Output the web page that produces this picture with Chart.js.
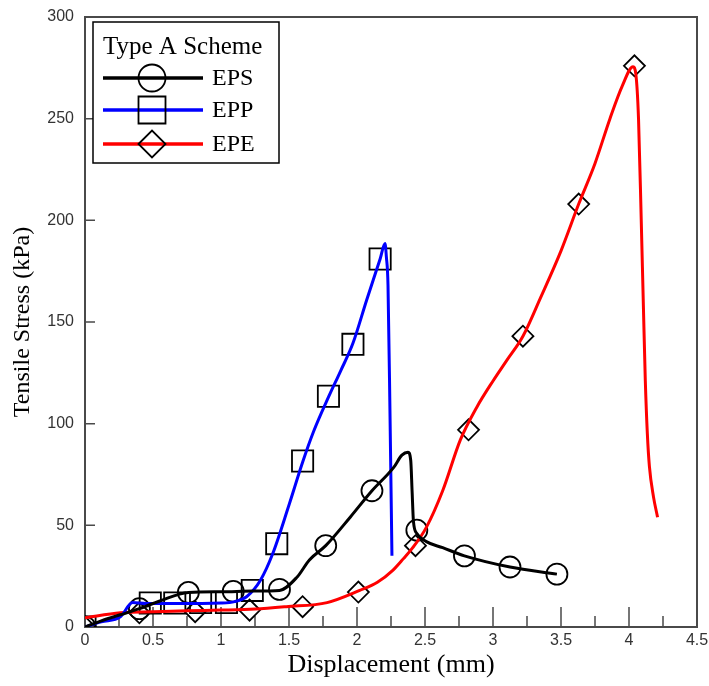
<!DOCTYPE html>
<html>
<head>
<meta charset="utf-8">
<script src="https://cdn.jsdelivr.net/npm/chart.js@4/dist/chart.umd.min.js"></script>
<style>
  html, body { margin: 0; padding: 0; background: #fff; }
</style>
</head>
<body>
<canvas id="c" width="709" height="686"></canvas>
<script>
// Series names, colours and marker shapes
const legendTitle = 'Type A Scheme';
const seriesNames = ['EPS', 'EPP', 'EPE'];
const seriesColors = ['#000000', '#0000ff', '#ff0000'];
const markerStyles = ['circle', 'rect', 'rectRot'];

// EPS: displacement (mm) / tensile stress (kPa)
const epsX = [0, 0.12, 0.26, 0.40, 0.55, 0.76, 1.00, 1.24, 1.43, 1.56, 1.65, 1.77, 1.95, 2.11, 2.27, 2.33, 2.375, 2.395, 2.405, 2.415, 2.44, 2.51, 2.63, 2.79, 3.125, 3.47];
const epsY = [0, 3, 6, 9, 12.8, 17, 17.3, 17.7, 18, 24.6, 33, 40, 54, 67, 78.5, 84.5, 86, 82, 67, 52, 46, 42, 39, 35, 29.5, 26];
const epsMarkX = [0, 0.40, 0.76, 1.09, 1.43, 1.77, 2.11, 2.44, 2.79, 3.125, 3.47];
const epsMarkY = [0, 9, 17, 17.5, 18.5, 40, 67, 47.6, 35, 29.5, 26];

// EPP
const eppX = [0, 0.12, 0.26, 0.35, 0.45, 0.66, 1.00, 1.10, 1.19, 1.29, 1.38, 1.50, 1.60, 1.68, 1.79, 1.88, 1.97, 2.07, 2.17, 2.206, 2.216, 2.228, 2.243, 2.257];
const eppY = [0, 2.5, 5, 12, 11.5, 11.5, 11.8, 12.5, 15, 23, 36, 60, 81, 96, 113, 126, 139.5, 160.6, 181, 188.6, 182, 168, 103, 35];
const eppMarkX = [0, 0.48, 0.66, 0.85, 1.04, 1.23, 1.41, 1.60, 1.79, 1.97, 2.17];
const eppMarkY = [0, 11.8, 11.8, 12, 12, 18, 41, 81.6, 113.5, 139, 181];

// EPE
const epeX = [0, 0.26, 0.50, 0.75, 1.00, 1.25, 1.48, 1.78, 2.02, 2.15, 2.265, 2.34, 2.41, 2.51, 2.63, 2.76, 2.88, 3.00, 3.10, 3.22, 3.35, 3.50, 3.63, 3.75, 3.86, 3.95, 4.03, 4.05, 4.07, 4.09, 4.105, 4.12, 4.135, 4.15, 4.18, 4.21];
const epeY = [4.5, 7, 7.5, 8, 8.3, 8.8, 10, 12, 18, 22, 28, 33.5, 39, 49, 67, 92, 108, 121, 131, 143, 162, 185, 208, 228, 250, 266, 275.5, 272, 250, 200, 160, 121, 95, 79, 64, 54];
const epeMarkX = [0, 0.40, 0.81, 1.21, 1.60, 2.01, 2.43, 2.82, 3.22, 3.63, 4.04];
const epeMarkY = [0, 7, 7.5, 8.3, 10, 17.2, 40, 97, 143, 208, 276];

// Axis ticks
const xTickValues = [0, 0.5, 1, 1.5, 2, 2.5, 3, 3.5, 4, 4.5];
const xMinorValues = [0.25, 0.75, 1.25, 1.75, 2.25, 2.75, 3.25, 3.75, 4.25];
const yTickValues = [0, 50, 100, 150, 200, 250, 300];

const pts = (xs, ys) => xs.map((x, i) => ({ x, y: ys[i] }));

const curves = [pts(epsX, epsY), pts(eppX, eppY), pts(epeX, epeY)];
const marks = [pts(epsMarkX, epsMarkY), pts(eppMarkX, eppMarkY), pts(epeMarkX, epeMarkY)];
const markRadius = [10.5, 15, 10.5];

const datasets = [];
curves.forEach((data, i) => {
  datasets.push({
    label: seriesNames[i],
    data,
    showLine: true,
    borderColor: seriesColors[i],
    borderWidth: 3,
    pointRadius: 0,
    cubicInterpolationMode: 'monotone',
    fill: false
  });
});
marks.forEach((data, i) => {
  datasets.push({
    label: seriesNames[i] + ' markers',
    data,
    showLine: false,
    pointStyle: markerStyles[i],
    pointRadius: markRadius[i],
    pointBorderColor: '#000',
    pointBackgroundColor: 'rgba(0,0,0,0)',
    pointBorderWidth: 1.8
  });
});

const serif = "'Liberation Serif', 'Times New Roman', serif";
const sans = "'Liberation Sans', Arial, sans-serif";

// Frame box and inward tick marks
const framePlugin = {
  id: 'frame',
  beforeDatasetsDraw(chart) {
    const { ctx, chartArea: a, scales: { x, y } } = chart;
    ctx.save();
    ctx.strokeStyle = '#4a4a4a';
    ctx.lineWidth = 1.5;
    ctx.beginPath();
    xTickValues.forEach(v => {
      const px = x.getPixelForValue(v);
      ctx.moveTo(px, a.bottom); ctx.lineTo(px, a.bottom - 20);
    });
    xMinorValues.forEach(v => {
      const px = x.getPixelForValue(v);
      ctx.moveTo(px, a.bottom); ctx.lineTo(px, a.bottom - 11);
    });
    yTickValues.forEach(v => {
      const py = y.getPixelForValue(v);
      ctx.moveTo(a.left, py); ctx.lineTo(a.left + 10, py);
    });
    ctx.stroke();
    ctx.lineWidth = 2;
    ctx.strokeRect(a.left, a.top, a.right - a.left, a.bottom - a.top);
    ctx.restore();
  }
};

// Legend box with line + marker samples
const legendPlugin = {
  id: 'schemeLegend',
  afterDatasetsDraw(chart) {
    const { ctx, chartArea: a } = chart;
    const bx = a.left + 8, by = a.top + 5, bw = 186, bh = 141;
    ctx.save();
    ctx.fillStyle = '#fff';
    ctx.fillRect(bx, by, bw, bh);
    ctx.strokeStyle = '#000';
    ctx.lineWidth = 1.5;
    ctx.strokeRect(bx, by, bw, bh);
    ctx.fillStyle = '#000';
    ctx.font = '25px ' + serif;
    ctx.textBaseline = 'alphabetic';
    ctx.textAlign = 'left';
    ctx.fillText(legendTitle, bx + 10, by + 32);
    const rows = [by + 56, by + 88, by + 122];
    seriesNames.forEach((name, i) => {
      const ry = rows[i];
      ctx.strokeStyle = seriesColors[i];
      ctx.lineWidth = 3.5;
      ctx.beginPath();
      ctx.moveTo(bx + 10, ry); ctx.lineTo(bx + 110, ry);
      ctx.stroke();
      const cx = bx + 59;
      ctx.strokeStyle = '#000';
      ctx.lineWidth = 1.8;
      ctx.beginPath();
      if (markerStyles[i] === 'circle') {
        ctx.arc(cx, ry, 13.5, 0, Math.PI * 2);
      } else if (markerStyles[i] === 'rect') {
        ctx.rect(cx - 13.5, ry - 13.5, 27, 27);
      } else {
        ctx.moveTo(cx - 13.5, ry); ctx.lineTo(cx, ry - 13.5);
        ctx.lineTo(cx + 13.5, ry); ctx.lineTo(cx, ry + 13.5); ctx.closePath();
      }
      ctx.stroke();
      ctx.fillStyle = '#000';
      ctx.font = '24px ' + serif;
      ctx.textBaseline = 'middle';
      ctx.fillText(name, bx + 119, ry + 1);
    });
    ctx.restore();
  }
};

const zeroPad = s => { s.paddingLeft = 0; s.paddingRight = 0; s.paddingTop = 0; s.paddingBottom = 0; };

new Chart(document.getElementById('c'), {
  type: 'scatter',
  data: { datasets },
  options: {
    responsive: false,
    animation: false,
    devicePixelRatio: 1,
    layout: { autoPadding: false, padding: { top: 17, right: 12, left: 0, bottom: 0 } },
    plugins: { legend: { display: false }, tooltip: { enabled: false } },
    scales: {
      x: {
        type: 'linear',
        min: 0, max: 4.5,
        afterBuildTicks: s => { s.ticks = xTickValues.map(v => ({ value: v })); },
        afterFit: s => { s.height = 59; zeroPad(s); },
        grid: { display: false, drawTicks: false },
        border: { display: false },
        ticks: { color: '#333', font: { family: sans, size: 16 }, padding: 4, maxRotation: 0, autoSkip: false, callback: v => String(v) },
        title: { display: true, text: 'Displacement (mm)', color: '#000', font: { family: serif, size: 26 }, padding: { top: 0, bottom: 5 } }
      },
      y: {
        type: 'linear',
        min: 0, max: 300,
        afterBuildTicks: s => { s.ticks = yTickValues.map(v => ({ value: v })); },
        afterFit: s => { s.width = 85; zeroPad(s); },
        grid: { display: false, drawTicks: false },
        border: { display: false },
        ticks: { color: '#333', font: { family: sans, size: 16 }, padding: 11, callback: v => String(v) },
        title: { display: true, text: 'Tensile Stress (kPa)', color: '#000', font: { family: serif, size: 24 }, padding: { top: 8, bottom: 0 } }
      }
    }
  },
  plugins: [framePlugin, legendPlugin]
});
</script>
</body>
</html>
